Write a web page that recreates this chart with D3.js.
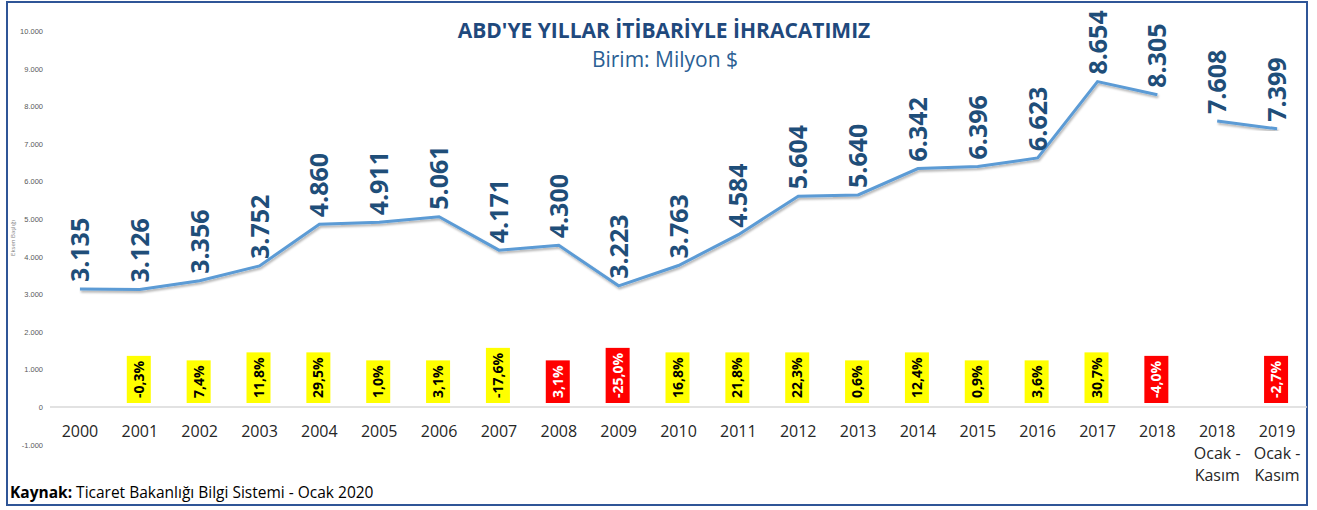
<!DOCTYPE html>
<html>
<head>
<meta charset="utf-8">
<style>
    body {
        margin: 0;
        background: #fff;
        font-family: "Open Sans", Arial, sans-serif;
    }
    .tick text { fill: #595959; font-size: 7.5px; }
    .xlab { fill: #262626; font-size: 16px; }
    .vlab { fill: #1f4e79; font-size: 25px; font-weight: bold; }
    .plab { font-size: 14px; font-weight: bold; }
</style>
</head>
<body>
<svg id="chart" width="1317" height="510"></svg>
<script src="https://d3js.org/d3.v7.min.js"></script>
<script>
// yearly exports to the USA, million $
var annualYears = ["2000","2001","2002","2003","2004","2005","2006","2007","2008","2009",
                   "2010","2011","2012","2013","2014","2015","2016","2017","2018"];
var annualValues = [3135, 3126, 3356, 3752, 4860, 4911, 5061, 4171, 4300, 3223,
                    3763, 4584, 5604, 5640, 6342, 6396, 6623, 8654, 8305];
// January - November figures
var ytdLabels = ["2018|Ocak -|Kasım", "2019|Ocak -|Kasım"];
var ytdValues = [7608, 7399];
// change on previous year, % (null = no label)
var pctChange = [null, -0.3, 7.4, 11.8, 29.5, 1.0, 3.1, -17.6, 3.1, -25.0,
                 16.8, 21.8, 22.3, 0.6, 12.4, 0.9, 3.6, 30.7, -4.0, null, -2.7];
// labels shown in red boxes in the original
var redLabels = ["2008", "2009", "2018", "2019|Ocak -|Kasım"];
var yTicks = [-1000, 0, 1000, 2000, 3000, 4000, 5000, 6000, 7000, 8000, 9000, 10000];

var categories = annualYears.concat(ytdLabels);
var tr = d3.formatLocale({decimal: ",", thousands: ".", grouping: [3], currency: ["", "$"], minus: "-"});
var fmtNum = tr.format(",");
var fmtPct = tr.format(".1f");

var svg = d3.select("#chart");

var x = d3.scaleBand().domain(categories).range([50, 1307]);
var y = d3.scaleLinear().domain([-1000, 10000]).range([444.6, 31]);
var cx = function(c) { return x(c) + x.bandwidth() / 2; };

// frame
svg.append("rect")
    .attr("x", 7).attr("y", 2).attr("width", 1300).attr("height", 503)
    .attr("fill", "none").attr("stroke", "#2f5597").attr("stroke-width", 2);

// title
svg.append("text").attr("x", 664).attr("y", 38).attr("text-anchor", "middle")
    .attr("fill", "#1f497d").style("font-size", "21px").style("font-weight", "bold")
    .text("ABD'YE YILLAR İTİBARİYLE İHRACATIMIZ");
svg.append("text").attr("x", 665).attr("y", 67).attr("text-anchor", "middle")
    .attr("fill", "#2b5f94").style("font-size", "21px")
    .text("Birim: Milyon $");

// y axis
var yAxis = svg.append("g")
    .attr("transform", "translate(48,0)")
    .call(d3.axisLeft(y).tickValues(yTicks).tickSize(0).tickPadding(5)
        .tickFormat(function(d) { return fmtNum(d); }));
yAxis.select(".domain").remove();

svg.append("text")
    .attr("transform", "translate(15,238) rotate(-90)")
    .attr("text-anchor", "middle").attr("fill", "#808080").style("font-size", "6px")
    .text("Eksen Başlığı");

// zero line
svg.append("line")
    .attr("x1", 50).attr("x2", 1307).attr("y1", y(0)).attr("y2", y(0))
    .attr("stroke", "#d9d9d9").attr("stroke-width", 1.5);

// x labels
svg.selectAll(".xlab").data(categories).join("text")
    .attr("class", "xlab")
    .attr("text-anchor", "middle")
    .each(function(c) {
        var t = d3.select(this);
        c.split("|").forEach(function(line, i) {
            t.append("tspan").attr("x", cx(c)).attr("y", 437 + i * 22).text(line);
        });
    });

// line with shadow
var defs = svg.append("defs");
defs.append("filter").attr("id", "shadow")
    .attr("x", "-5%").attr("y", "-20%").attr("width", "110%").attr("height", "140%")
    .append("feDropShadow")
    .attr("dx", 1).attr("dy", 2).attr("stdDeviation", 1.2)
    .attr("flood-color", "#000").attr("flood-opacity", 0.3);

var line = d3.line().x(function(d) { return cx(d[0]); }).y(function(d) { return y(d[1]); });
var series = [d3.zip(annualYears, annualValues), d3.zip(ytdLabels, ytdValues)];

svg.selectAll(".series").data(series).join("path")
    .attr("class", "series")
    .attr("d", line)
    .attr("fill", "none").attr("stroke", "#5b9bd5").attr("stroke-width", 3)
    .attr("filter", "url(#shadow)");

// value labels
var points = series[0].concat(series[1]);
svg.selectAll(".vlab").data(points).join("text")
    .attr("class", "vlab")
    .attr("transform", function(d) { return "translate(" + cx(d[0]) + "," + (y(d[1]) - 7) + ") rotate(-90)"; })
    .attr("dy", "0.36em")
    .text(function(d) { return fmtNum(d[1]); });

// percentage change boxes
var pctData = categories.map(function(c, i) { return {cat: c, v: pctChange[i]}; })
    .filter(function(d) { return d.v !== null; });

var pg = svg.selectAll(".pct").data(pctData).join("g")
    .attr("class", "pct")
    .attr("transform", function(d) { return "translate(" + (cx(d.cat) - 1) + ",403)"; });

pg.append("text")
    .attr("class", "plab")
    .attr("transform", "rotate(-90)")
    .attr("x", 5)
    .attr("dy", "0.36em")
    .attr("fill", function(d) { return redLabels.indexOf(d.cat) >= 0 ? "#fff" : "#000"; })
    .text(function(d) { return fmtPct(d.v) + "%"; });

pg.each(function() {
    var g = d3.select(this);
    var len = g.select("text").node().getComputedTextLength();
    g.insert("rect", "text")
        .attr("x", -12).attr("y", -(len + 10)).attr("width", 24).attr("height", len + 10)
        .attr("fill", function(d) { return redLabels.indexOf(d.cat) >= 0 ? "#ff0000" : "#ffff00"; });
});

// source
svg.append("text").attr("x", 10).attr("y", 498)
    .attr("fill", "#000").style("font-size", "15.5px")
    .call(function(t) {
        t.append("tspan").style("font-weight", "bold").text("Kaynak:");
        t.append("tspan").text(" Ticaret Bakanlığı Bilgi Sistemi - Ocak 2020");
    });
</script>
</body>
</html>
